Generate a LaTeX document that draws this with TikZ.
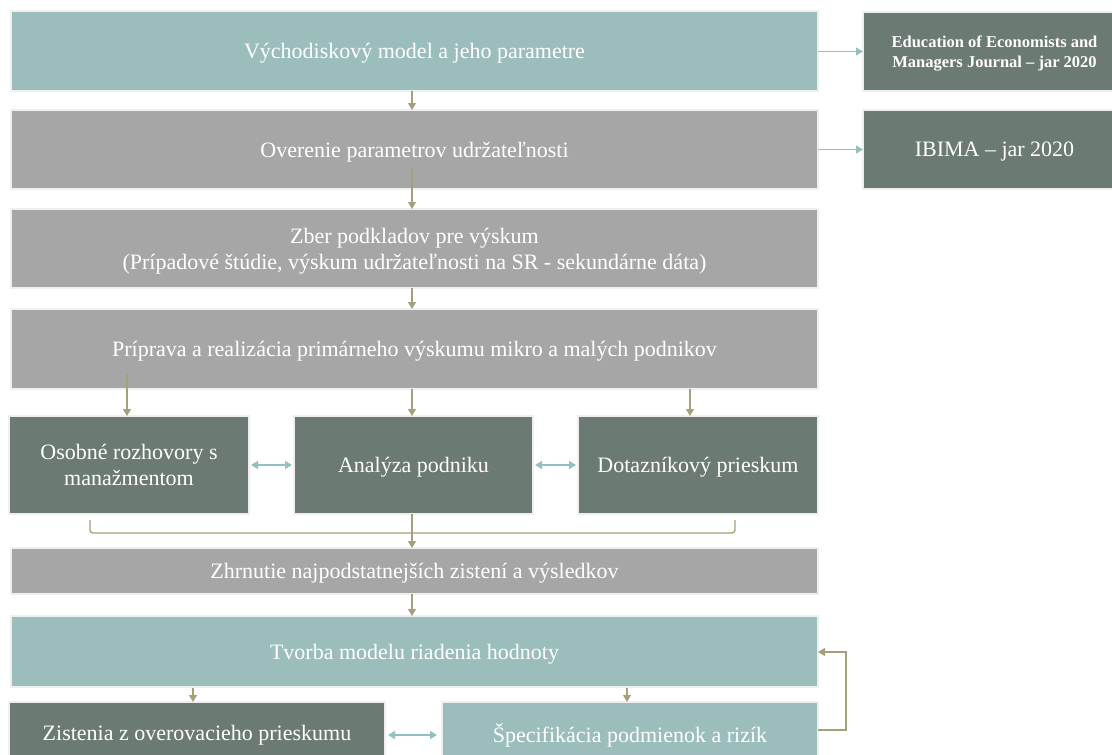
\documentclass[tikz,border=0pt]{standalone}
\usepackage{fontspec}
\setmainfont{Liberation Serif}
\usetikzlibrary{arrows.meta,calc}
\definecolor{tealbox}{HTML}{9BBDBC}
\definecolor{graybox}{HTML}{A6A6A6}
\definecolor{darkbox}{HTML}{6B7A72}
\definecolor{edgeline}{HTML}{EFEFEF}
\definecolor{flowtan}{HTML}{A3A07A}
\definecolor{linkteal}{HTML}{93C1C1}
\tikzset{
  x=1pt, y=-1pt,
  box/.style={draw=edgeline, line width=1.5pt, anchor=north west, inner sep=0pt, outer sep=0pt,
    text=white, align=center, text depth=0pt, font=\fontsize{22}{26}\selectfont},
  tealfill/.style={box, fill=tealbox},
  grayfill/.style={box, fill=graybox},
  darkfill/.style={box, fill=darkbox},
  flow/.style={draw=flowtan, line width=1.3pt, -{Triangle[width=8pt,length=7pt]}},
  link/.style={draw=linkteal, line width=1.3pt, -{Triangle[width=8pt,length=7pt]}},
  twoway/.style={draw=linkteal, line width=1.3pt, {Triangle[width=8pt,length=7pt]}-{Triangle[width=8pt,length=7pt]}},
}
\begin{document}
\begin{tikzpicture}
\useasboundingbox (0,0) rectangle (1112,755);
\begin{scope}
\clip (0,0) rectangle (1112,755);
% main column
\node[tealfill, minimum width=807pt, minimum height=80pt] (b1) at (11,11) {Východiskový model a jeho parametre};
\node[grayfill, minimum width=807pt, minimum height=79pt] (b2) at (11,110) {Overenie parametrov udržateľnosti};
\node[grayfill, minimum width=807pt, minimum height=79pt] (b3) at (11,209) {Zber podkladov pre výskum\\(Prípadové štúdie, výskum udržateľnosti na SR - sekundárne dáta)};
\node[grayfill, minimum width=807pt, minimum height=80pt] (b4) at (11,309) {Príprava a realizácia primárneho výskumu mikro a malých podnikov};
% publications
\node[darkfill, minimum width=263pt, minimum height=79pt, font=\fontsize{16.5}{20}\selectfont\bfseries] (p1) at (863,12) {Education of Economists and\\Managers Journal – jar 2020};
\node[darkfill, minimum width=263pt, minimum height=79pt] (p2) at (863,110) {IBIMA – jar 2020};
% research methods
\node[darkfill, minimum width=240pt, minimum height=98pt] (m1) at (9,416) {Osobné rozhovory s\\manažmentom};
\node[darkfill, minimum width=239pt, minimum height=98pt] (m2) at (294,416) {Analýza podniku};
\node[darkfill, minimum width=240pt, minimum height=98pt] (m3) at (578,416) {Dotazníkový prieskum};
% results
\node[grayfill, minimum width=807pt, minimum height=46pt] (b5) at (11,548) {Zhrnutie najpodstatnejších zistení a výsledkov};
\node[tealfill, minimum width=807pt, minimum height=71pt] (b6) at (11,616) {Tvorba modelu riadenia hodnoty};
\node[darkfill, minimum width=376pt, minimum height=62pt] (b7) at (9,702) {Zistenia z overovacieho prieskumu};
\node[tealfill, minimum width=376pt, minimum height=62pt] (b8) at (442,702) {Špecifikácia podmienok a rizík};

% vertical flow
\coordinate (s2) at (412,168);
\coordinate (s4a) at (127,374);
\coordinate (s4c) at (690,389);
\coordinate (s6a) at (193,688);
\coordinate (s6b) at (627,688);
\draw[flow] (b1.south -| s2) -- (b2.north -| s2);
\draw[flow] (s2) -- (b3.north -| s2);
\draw[flow] (b3.south -| s2) -- (b4.north -| s2);
\draw[flow] (s4a) -- (s4a |- m1.north);
\draw[flow] (b4.south -| s2) -- (m2.north -| s2);
\draw[flow] (s4c) -- (s4c |- m3.north);
% bracket gathering the three methods
\coordinate (brL) at (90,520);
\coordinate (brR) at (735,520);
\draw[draw=flowtan, line width=1.3pt, rounded corners=3pt] (brL) -- (90,533) -- (735,533) -- (brR);
\draw[flow] (m2.south -| s2) -- (b5.north -| s2);
\draw[flow] (b5.south -| s2) -- (b6.north -| s2);
\draw[flow] (s6a) -- (s6a |- b7.north);
\draw[flow] (s6b) -- (s6b |- b8.north);
% feedback loop
\coordinate (fbB) at (846,730);
\coordinate (fbT) at (846,652);
\draw[flow] (b8.east |- fbB) -- (fbB) -- (fbT) -- (b6.east |- fbT);
% side links
\draw[link] (b1.east |- p1.east) -- (p1.west);
\draw[link] (b2.east) -- (p2.west);
\draw[twoway] ($(m1.east)+(2,0)$) -- ($(m2.west)+(-2,0)$);
\draw[twoway] ($(m2.east)+(2,0)$) -- ($(m3.west)+(-2,0)$);
\coordinate (lk) at (0,735);
\draw[twoway] ($(b7.east |- lk)+(3,0)$) -- ($(b8.west |- lk)+(-5,0)$);
\end{scope}
\end{tikzpicture}
\end{document}
